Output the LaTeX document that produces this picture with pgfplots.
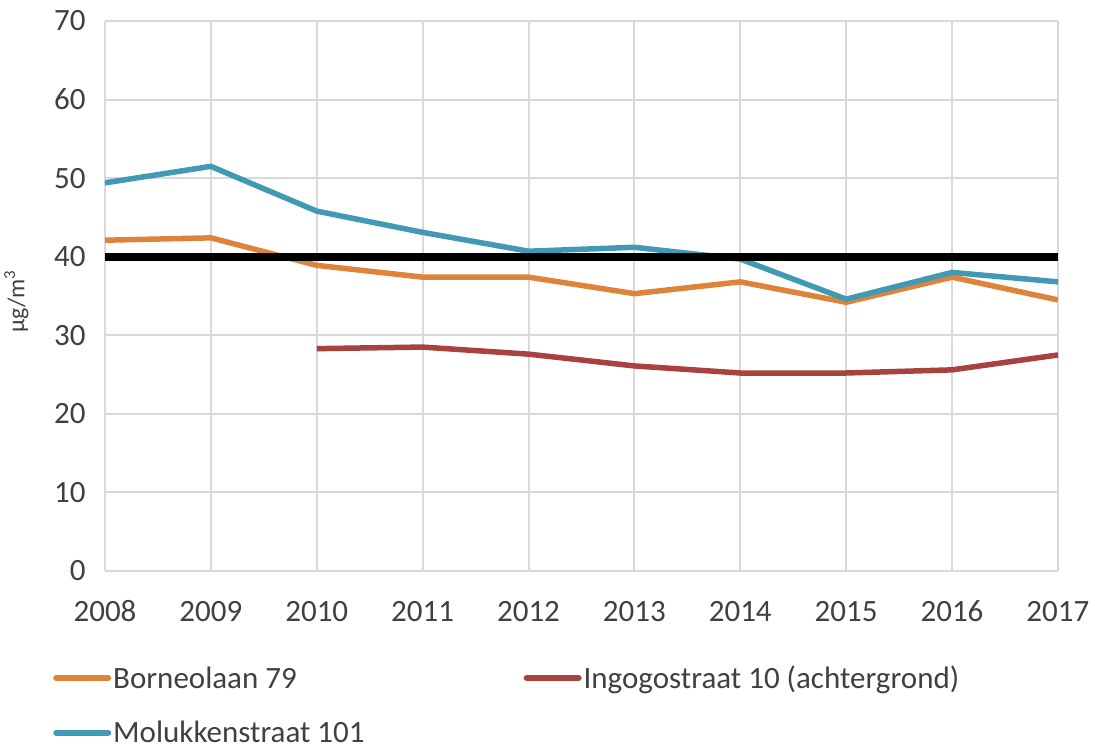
\documentclass[border=0pt]{standalone}
\usepackage{fontspec}
\setmainfont{Carlito}
\usepackage{pgfplots}
\pgfplotsset{compat=1.18}
\definecolor{corange}{HTML}{DD843A}
\definecolor{cred}{HTML}{A8423F}
\definecolor{cteal}{HTML}{4199B3}
\definecolor{cgrid}{HTML}{D9D9D9}
\definecolor{ctext}{HTML}{404040}
\begin{document}
\begin{tikzpicture}
\useasboundingbox (0pt,0pt) rectangle (1095pt,753pt);
\begin{axis}[
  at={(105pt,182pt)}, anchor=south west,
  scale only axis, width=953pt, height=550pt,
  xmin=2008, xmax=2017, ymin=0, ymax=70,
  xtick={2008,...,2017}, ytick={0,10,...,70},
  xticklabel style={/pgf/number format/1000 sep={}},
  /pgf/number format/assume math mode=true,
  ticklabel style={font=\fontsize{31}{31}\selectfont, text=ctext},
  xticklabel style={yshift=-26pt, text height=21pt, text depth=0pt},
  yticklabel style={xshift=-16pt},
  grid=major, grid style={cgrid, line width=2pt},
  axis line style={draw=none},
  axis x line*=bottom,
  x axis line style={cgrid, line width=2pt},
  tick style={draw=none},
  ylabel={µg/m\textsuperscript{3}},
  ylabel style={font=\fontsize{24}{24}\selectfont, text=ctext, at={(axis description cs:-0.093,0.49)}, anchor=center},
  legend columns=2,
  legend style={draw=none, fill=none, at={(axis description cs:-0.0577,-0.165)}, anchor=north west,
    font=\fontsize{31}{31}\selectfont, text=ctext,
    /tikz/every even column/.append style={column sep=157pt},
    row sep=27pt},
  legend cell align=left,
  legend image code/.code={\draw[#1, line width=6pt, line cap=round] (0pt,0pt) -- (52pt,0pt);},
]
\addplot[corange, line width=5.5pt] coordinates {(2008,42.1)(2009,42.4)(2010,38.9)(2011,37.4)(2012,37.4)(2013,35.3)(2014,36.8)(2015,34.2)(2016,37.4)(2017,34.5)};
\addlegendentry{Borneolaan 79}
\addplot[cred, line width=5.5pt] coordinates {(2010,28.3)(2011,28.5)(2012,27.6)(2013,26.1)(2014,25.2)(2015,25.2)(2016,25.6)(2017,27.5)};
\addlegendentry{Ingogostraat 10 (achtergrond)}
\addplot[cteal, line width=5.5pt] coordinates {(2008,49.4)(2009,51.5)(2010,45.8)(2011,43.1)(2012,40.7)(2013,41.2)(2014,39.7)(2015,34.6)(2016,38.0)(2017,36.8)};
\addlegendentry{Molukkenstraat 101}
\addplot[black, line width=8pt, forget plot] coordinates {(2008,40)(2017,40)};
\end{axis}
\end{tikzpicture}
\end{document}
